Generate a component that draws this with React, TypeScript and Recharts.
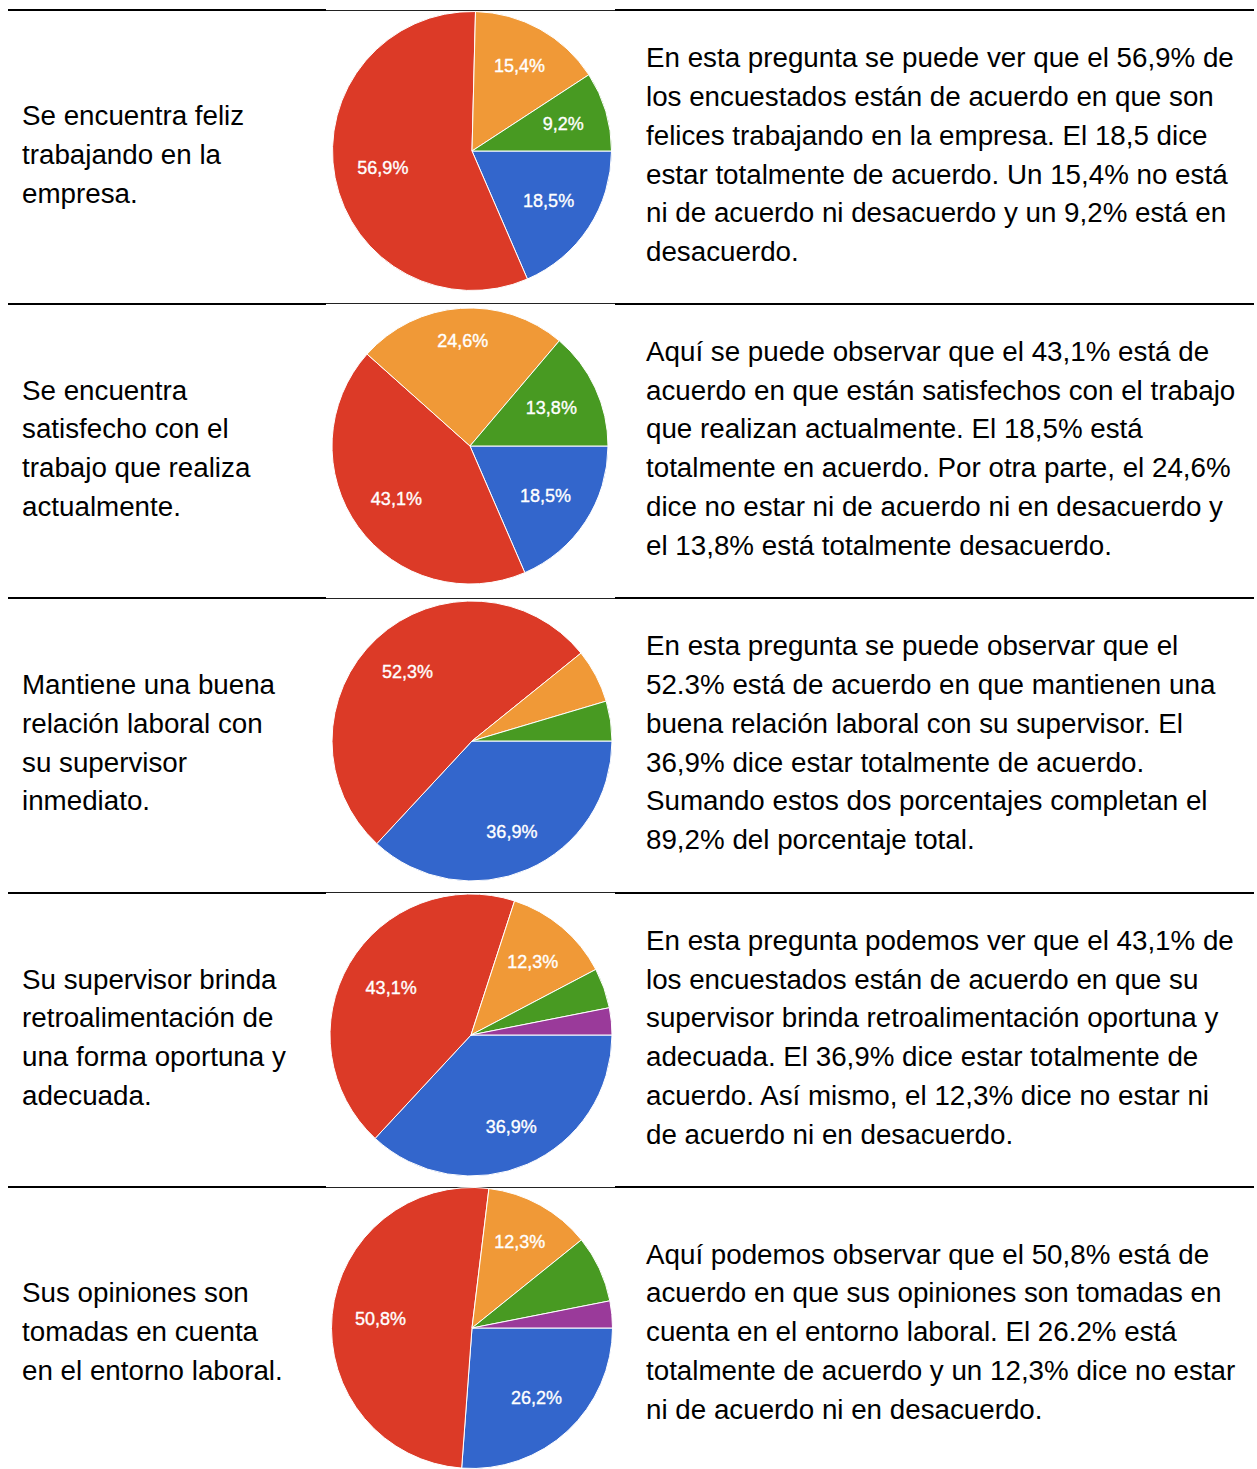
import React from "react";
import { PieChart, Pie, Cell } from "recharts";

// ---------- data ----------
const categories = [
  "Totalmente de acuerdo",
  "De acuerdo",
  "Ni de acuerdo ni en desacuerdo",
  "En desacuerdo",
  "Totalmente en desacuerdo",
];

const felizValues = [18.5, 56.9, 15.4, 9.2, 0];
const satisfechoValues = [18.5, 43.1, 24.6, 13.8, 0];
const relacionValues = [36.9, 52.3, 6.2, 4.6, 0];
const retroValues = [36.9, 43.1, 12.3, 4.6, 3.1];
const opinionesValues = [26.2, 50.8, 12.3, 7.7, 3.1];

const questionLines = [
  ["Se encuentra feliz", "trabajando en la", "empresa."],
  ["Se encuentra", "satisfecho con el", "trabajo que realiza", "actualmente."],
  ["Mantiene una buena", "relación laboral con", "su supervisor", "inmediato."],
  ["Su supervisor brinda", "retroalimentación de", "una forma oportuna y", "adecuada."],
  ["Sus opiniones son", "tomadas en cuenta", "en el entorno laboral."],
];

const commentLines = [
  [
    "En esta pregunta se puede ver que el 56,9% de",
    "los encuestados están de acuerdo en que son",
    "felices trabajando en la empresa. El 18,5 dice",
    "estar totalmente de acuerdo. Un 15,4% no está",
    "ni de acuerdo ni desacuerdo y un 9,2% está en",
    "desacuerdo.",
  ],
  [
    "Aquí se puede observar que el 43,1% está de",
    "acuerdo en que están satisfechos con el trabajo",
    "que realizan actualmente. El 18,5% está",
    "totalmente en acuerdo. Por otra parte, el 24,6%",
    "dice no estar ni de acuerdo ni en desacuerdo y",
    "el 13,8% está totalmente desacuerdo.",
  ],
  [
    "En esta pregunta se puede observar que el",
    "52.3% está de acuerdo en que mantienen una",
    "buena relación laboral con su supervisor. El",
    "36,9% dice estar totalmente de acuerdo.",
    "Sumando estos dos porcentajes completan el",
    "89,2% del porcentaje total.",
  ],
  [
    "En esta pregunta podemos ver que el 43,1% de",
    "los encuestados están de acuerdo en que su",
    "supervisor brinda retroalimentación oportuna y",
    "adecuada. El 36,9% dice estar totalmente de",
    "acuerdo. Así mismo, el 12,3% dice no estar ni",
    "de acuerdo ni en desacuerdo.",
  ],
  [
    "Aquí podemos observar que el 50,8% está de",
    "acuerdo en que sus opiniones son tomadas en",
    "cuenta en el entorno laboral. El 26.2% está",
    "totalmente de acuerdo y un 12,3% dice no estar",
    "ni de acuerdo ni en desacuerdo.",
  ],
];

const seriesList = [felizValues, satisfechoValues, relacionValues, retroValues, opinionesValues];

// ---------- styles / layout ----------
const sliceColors = ["#3366CC", "#DC3A27", "#F09937", "#489A22", "#9A3A9A"];
const lineYs = [10, 303.5, 598, 892.5, 1187];
const rowHeight = 294.25;
const pieLayout = [
  { cx: 472, cy: 151, r: 139.5 },
  { cx: 470, cy: 446, r: 138 },
  { cx: 472, cy: 741, r: 140 },
  { cx: 471, cy: 1034.5, r: 141 },
  { cx: 472, cy: 1328, r: 140.5 },
];
const FONT = "'Liberation Sans', Arial, Helvetica, sans-serif";
const FS = 27.75;
const LH = 38.8;
const LABEL_FS = 18;
const CHART_BOX = 300;
const RADIAN = Math.PI / 180;

const fmt = (v: number) => v.toFixed(1).replace(".", ",") + "%";

const renderLabel = (props: any) => {
  const { cx, cy, midAngle, outerRadius, value } = props;
  if (value < 9) return null;
  const txt = fmt(value);
  const halfW = (txt.length * 0.5 * LABEL_FS * 1.04) / 2;
  const halfH = 7;
  const ca = Math.cos(midAngle * RADIAN);
  const sa = Math.sin(midAngle * RADIAN);
  const d = outerRadius * 0.825 - (Math.abs(sa) * halfH + Math.abs(ca) * halfW);
  const x = cx + d * ca;
  const y = cy - d * sa;
  return (
    <text
      x={x}
      y={y}
      fill="#ffffff"
      stroke="#ffffff"
      strokeWidth={0.35}
      textAnchor="middle"
      dominantBaseline="central"
      fontFamily={FONT}
      fontSize={LABEL_FS}
    >
      {txt}
    </text>
  );
};

function RowPie({ idx }: { idx: number }) {
  const values = seriesList[idx];
  const data = categories
    .map((name, i) => ({ name, value: values[i], color: sliceColors[i] }))
    .filter((d) => d.value > 0);
  const lay = pieLayout[idx];
  return (
    <div
      style={{
        position: "absolute",
        left: lay.cx - CHART_BOX / 2,
        top: lay.cy - CHART_BOX / 2,
        width: CHART_BOX,
        height: CHART_BOX,
      }}
    >
      <PieChart width={CHART_BOX} height={CHART_BOX} margin={{ top: 0, right: 0, bottom: 0, left: 0 }}>
        <Pie
          data={data}
          dataKey="value"
          nameKey="name"
          cx={CHART_BOX / 2}
          cy={CHART_BOX / 2}
          outerRadius={lay.r}
          startAngle={0}
          endAngle={-360}
          stroke="#ffffff"
          strokeWidth={1}
          labelLine={false}
          label={renderLabel}
          isAnimationActive={false}
        >
          {data.map((d) => (
            <Cell key={d.name} fill={d.color} />
          ))}
        </Pie>
      </PieChart>
    </div>
  );
}

function TextBlock({ lines, left, rowTop }: { lines: string[]; left: number; rowTop: number }) {
  const h = lines.length * LH;
  const center = rowTop + rowHeight / 2 - 1.5;
  return (
    <div
      style={{
        position: "absolute",
        left,
        top: center - h / 2,
        fontFamily: FONT,
        fontSize: FS,
        lineHeight: `${LH}px`,
        color: "#000",
        whiteSpace: "nowrap",
      }}
    >
      {lines.map((l, i) => (
        <div key={i}>{l}</div>
      ))}
    </div>
  );
}

export default function App() {
  return (
    <div
      style={{
        position: "absolute",
        left: 0,
        top: 0,
        width: 1257,
        height: 1469,
        overflow: "hidden",
        background: "#ffffff",
      }}
    >
      {lineYs.map((y, i) => (
        <React.Fragment key={i}>
          <div style={{ position: "absolute", left: 8, top: y - 1, width: 318, height: 2, background: "#000" }} />
          <div style={{ position: "absolute", left: 326, top: y - 0.5, width: 289, height: 1, background: "#222" }} />
          <div style={{ position: "absolute", left: 615, top: y - 1, width: 639, height: 2, background: "#000" }} />
        </React.Fragment>
      ))}
      {seriesList.map((_, i) => (
        <React.Fragment key={i}>
          <TextBlock lines={questionLines[i]} left={22} rowTop={lineYs[i]} />
          <RowPie idx={i} />
          <TextBlock lines={commentLines[i]} left={646} rowTop={lineYs[i]} />
        </React.Fragment>
      ))}
    </div>
  );
}
